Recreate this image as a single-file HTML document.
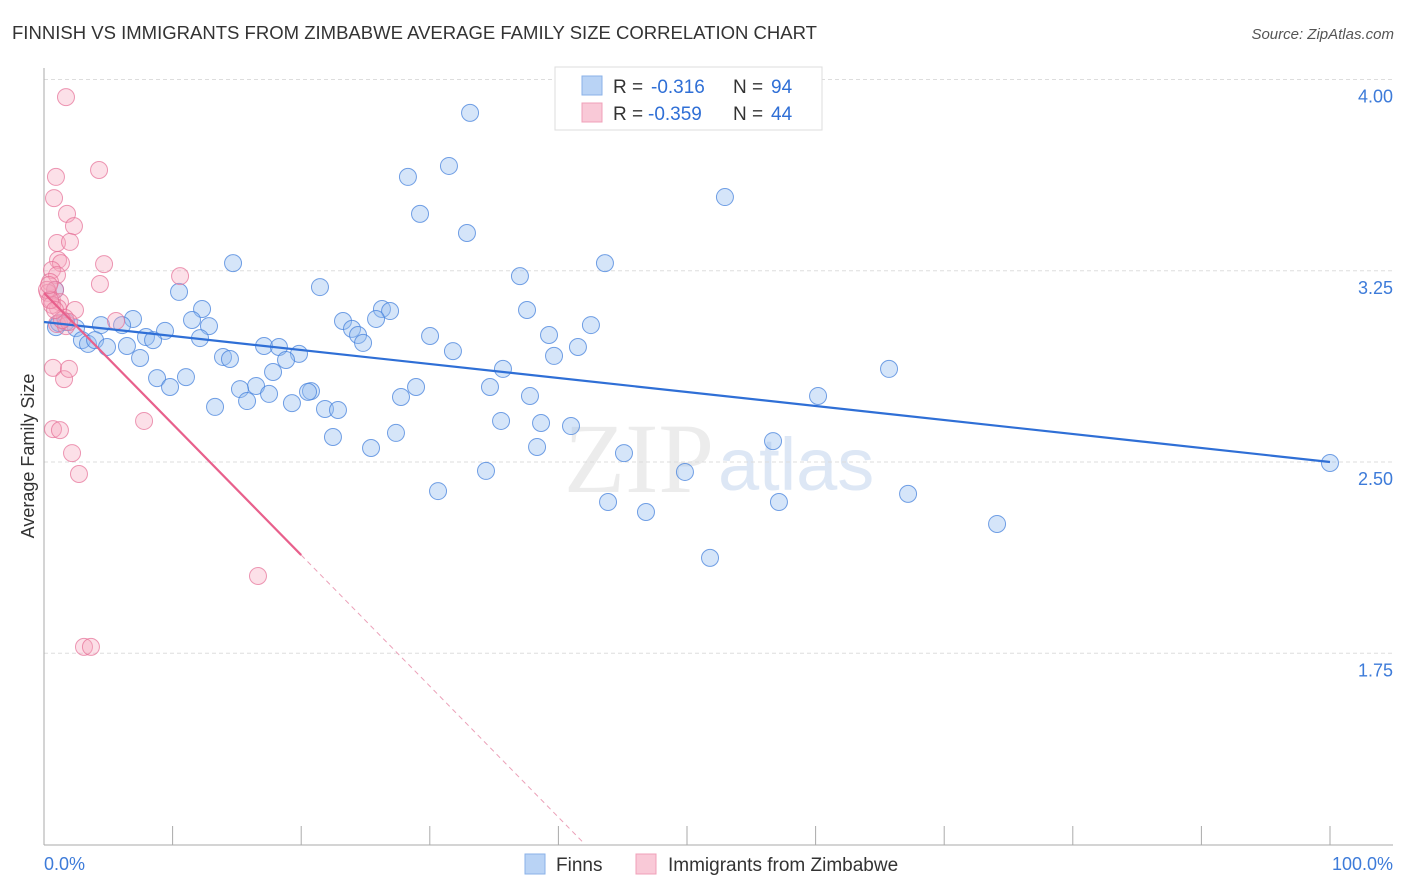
<!DOCTYPE html>
<html><head><meta charset="utf-8">
<style>
body{margin:0;background:#fff;font-family:"Liberation Sans",sans-serif;}
#wrap{position:relative;width:1406px;height:892px;overflow:hidden;}
</style></head>
<body>
<div id="wrap">
<svg id="svg" width="1406" height="892" xmlns="http://www.w3.org/2000/svg">
<text x="12" y="39" font-size="18" fill="#333" textLength="805" lengthAdjust="spacingAndGlyphs">FINNISH VS IMMIGRANTS FROM ZIMBABWE AVERAGE FAMILY SIZE CORRELATION CHART</text>
<text x="1394" y="39" font-size="15" fill="#555" font-style="italic" text-anchor="end">Source: ZipAtlas.com</text>
<text x="714" y="492" font-size="100" fill="#ececec" text-anchor="end" font-family="Liberation Serif,serif">ZIP</text>
<text x="718" y="490" font-size="74" fill="#dde7f5">atlas</text>
<text transform="translate(34,456) rotate(-90)" font-size="18" fill="#333" text-anchor="middle">Average Family Size</text>
<g id="grid"></g><g id="axes"></g><g id="pts"></g><g id="lines"></g>
<g>
<rect x="555" y="67" width="267" height="63" fill="#fff" stroke="#ddd"/>
<rect x="582" y="76" width="20" height="19" fill="#b9d3f5" stroke="#8ab2e8"/>
<rect x="582" y="103" width="20" height="19" fill="#f9c9d7" stroke="#f0a0b8"/>
<text x="613" y="93" font-size="19" fill="#333">R = <tspan x="651" fill="#2f6fd6">-0.316</tspan><tspan x="733">N = </tspan><tspan x="771" fill="#2f6fd6">94</tspan></text>
<text x="613" y="120" font-size="19" fill="#333">R = <tspan x="648" fill="#2f6fd6">-0.359</tspan><tspan x="733">N = </tspan><tspan x="771" fill="#2f6fd6">44</tspan></text>
</g>
<rect x="525" y="854" width="20" height="20" fill="#b9d3f5" stroke="#8ab2e8"/>
<text x="556" y="871" font-size="19" fill="#333">Finns</text>
<rect x="636" y="854" width="20" height="20" fill="#f9c9d7" stroke="#f0a0b8"/>
<text x="668" y="871" font-size="19" fill="#333">Immigrants from Zimbabwe</text>
<text x="44" y="870" font-size="18" fill="#3d7bd9">0.0%</text>
<text x="1393" y="870" font-size="18" fill="#3d7bd9" text-anchor="end">100.0%</text>
</svg>
</div>
<script>
const yTicks=[4.00,3.25,2.50,1.75];
const yTickLabels=["4.00","3.25","2.50","1.75"];
const finnsPx=[[470,113],[449,166],[408,177],[420,214],[467,233],[725,197],[233,263],[605,263],[520,276],[320,287],[179,292],[202,309],[382,309],[390,311],[527,310],[133,319],[192,320],[343,321],[376,319],[591,325],[56,327],[76,328],[101,325],[122,325],[209,326],[352,329],[165,331],[146,337],[200,338],[549,335],[430,336],[358,335],[82,340],[88,344],[95,340],[363,343],[127,346],[153,340],[107,347],[264,346],[279,347],[578,347],[453,351],[223,357],[140,358],[230,359],[299,354],[286,360],[554,356],[503,369],[889,369],[273,372],[157,378],[186,377],[170,387],[256,386],[240,389],[269,394],[311,391],[416,387],[490,387],[308,392],[401,397],[530,396],[818,396],[215,407],[247,401],[292,403],[325,409],[338,410],[541,423],[501,421],[571,426],[333,437],[396,433],[773,441],[537,447],[371,448],[624,453],[486,471],[685,472],[438,491],[908,494],[608,502],[779,502],[646,512],[997,524],[710,558],[1330,463],[59,323],[66,322],[55,290]];
const zimPx=[[66,97],[99,170],[56,177],[54,198],[67,214],[74,226],[57,243],[70,242],[104,264],[58,260],[61,263],[52,270],[57,275],[180,276],[50,282],[100,284],[55,290],[48,293],[52,300],[60,302],[75,310],[58,308],[52,305],[65,318],[116,321],[57,324],[66,326],[69,322],[53,368],[64,379],[69,369],[144,421],[53,429],[60,430],[72,453],[79,474],[258,576],[84,647],[91,647],[47,290],[50,300],[62,320],[55,310],[49,285]];
const finnsX=finnsPx.map(p=>+((p[0]-44)/12.86).toFixed(2));
const finnsY=finnsPx.map(p=>+(4-(p[1]-79.5)/255).toFixed(3));
const zimX=zimPx.map(p=>+((p[0]-44)/12.86).toFixed(2));
const zimY=zimPx.map(p=>+(4-(p[1]-79.5)/255).toFixed(3));
const finnsTrend=[3.049,2.500];
const zimTrend=[3.163,-0.0514];
const zimSolidEnd=20, zimDashEnd=41.9;

const X=v=>44+v*12.86, Y=v=>79.5+(4-v)*255;
const NS="http://www.w3.org/2000/svg";
function mk(tag,attrs,parent){const e=document.createElementNS(NS,tag);for(const k in attrs)e.setAttribute(k,attrs[k]);parent.appendChild(e);return e;}
const grid=document.getElementById('grid'),axes=document.getElementById('axes'),pts=document.getElementById('pts'),lines=document.getElementById('lines');
yTicks.forEach((t,i)=>{
 const l=mk('line',{x1:44,x2:1393,y1:Y(t),y2:Y(t),stroke:'#ddd','stroke-dasharray':'4,3'},grid);
 
 
 const tx=mk('text',{x:1393,y:Y(t)+23,'font-size':18,fill:'#3d7bd9','text-anchor':'end'},grid);
 tx.textContent=yTickLabels[i];
 
 
});
const ya=mk('line',{x1:44,x2:44,y1:68,y2:845,stroke:'#aaa'},axes);


const xa=mk('line',{x1:44,x2:1393,y1:845,y2:845,stroke:'#aaa'},axes);


for(let i=0;i<=10;i++){
 const t=mk('line',{x1:X(i*10),x2:X(i*10),y1:826,y2:845,stroke:'#aaa'},axes);
 
 
}
function dots(xs,ys,fill,stroke,name){
 xs.forEach((x,i)=>{
  const c=mk('circle',{cx:X(x),cy:Y(ys[i]),r:8.5,fill:fill,stroke:stroke,'stroke-width':1},pts);
  
  
 });
}
dots(finnsX,finnsY,'rgba(150,190,240,0.4)','rgba(70,130,220,0.75)','finns-point');
dots(zimX,zimY,'rgba(245,165,190,0.35)','rgba(230,110,150,0.7)','zimbabwe-point');
const bl=mk('line',{x1:X(0),y1:Y(finnsTrend[0]),x2:X(100),y2:Y(finnsTrend[1]),stroke:'#2f6fd6','stroke-width':2.2},lines);


const zl=v=>zimTrend[0]+zimTrend[1]*v;
const pl=mk('line',{x1:X(0),y1:Y(zl(0)),x2:X(zimSolidEnd),y2:Y(zl(zimSolidEnd)),stroke:'#e8608c','stroke-width':2.2},lines);


const pd=mk('line',{x1:X(zimSolidEnd),y1:Y(zl(zimSolidEnd)),x2:X(zimDashEnd),y2:Y(zl(zimDashEnd)),stroke:'#eba0b8','stroke-width':1,'stroke-dasharray':'5,4'},lines);


</script>
</body></html>
